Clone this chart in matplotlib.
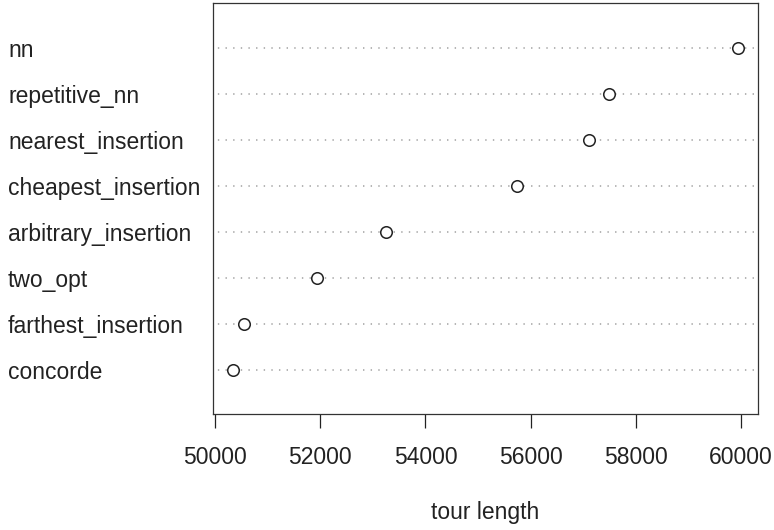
import matplotlib
matplotlib.use("Agg")
import matplotlib.pyplot as plt

plt.rcParams['font.family'] = ['Liberation Sans', 'DejaVu Sans']
plt.rcParams['lines.scale_dashes'] = False

methods = ["concorde", "farthest_insertion", "two_opt", "arbitrary_insertion",
           "cheapest_insertion", "nearest_insertion", "repetitive_nn", "nn"]
tour_length = [50348, 50557, 51933, 53251, 55747, 57110, 57496, 59937]
xticks = [50000, 52000, 54000, 56000, 58000, 60000]

fig = plt.figure(figsize=(7.74, 5.3), dpi=100)
ax = fig.add_axes([213.3/774, 1-414.3/530, (757.7-213.3)/774, (414.3-3.3)/530])

ypos = list(range(1, len(methods) + 1))
lo, hi = min(tour_length), max(tour_length)
ext = 0.04 * (hi - lo)
ax.set_xlim(lo - ext, hi + ext)
ax.set_ylim(0.035, 8.965)

for y in ypos:
    ax.axhline(y, color='#b4b4b4', lw=1.4, linestyle=(2, (1.0, 4.5)), zorder=1)
ax.plot(tour_length, ypos, linestyle='none', marker='o', markersize=8.3,
        markerfacecolor='white', markeredgecolor='#222222', markeredgewidth=1.1, zorder=3)

ax.set_xticks(xticks)
ax.set_xticklabels([str(t) for t in xticks])
ax.set_yticks([])
ax.tick_params(axis='x', length=10, width=0.9, pad=12.5, labelsize=16.5, colors='#222222', labelcolor='#222222')
for s in ax.spines.values():
    s.set_linewidth(0.9)
    s.set_color('#333333')

for m, y in zip(methods, ypos):
    fy = ax.transData.transform((0, y))[1]
    fig.text(8/774, (fy - 2.5)/530, m, fontsize=16.5, ha='left', va='center', color='#222222',
             transform=fig.transFigure)

fig.text(485.5/774, 1-519/530, "tour length", fontsize=16.5, ha='center', va='baseline', color='#222222')

fig.savefig("out.png", dpi=100)
